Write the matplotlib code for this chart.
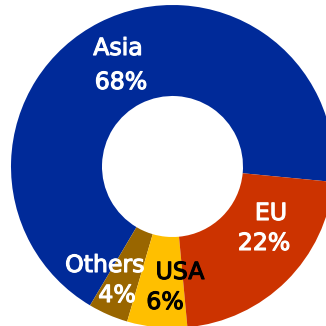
import matplotlib
matplotlib.use("Agg")
import matplotlib.pyplot as plt
import matplotlib.patheffects as pe

categories = ["Asia", "Others", "USA", "EU"]
values = [68, 4, 6, 22]
pct_labels = ["68%", "4%", "6%", "22%"]
colors = ["#002A99", "#996600", "#FFBF00", "#CC3300"]
text_colors = ["white", "white", "black", "white"]

# label anchor pixel positions (name line, percent line)
label_px = [((118, 48), (121, 82)),
            ((105, 265), (117, 295)),
            ((180, 272), (165, 302)),
            ((271, 213), (264, 243))]

W = H = 326
cx, cy, R, r_in = 172.5, 166.5, 161.5, 70.5

fig = plt.figure(figsize=(W / 100, H / 100), dpi=100)
ax = fig.add_axes([0, 0, 1, 1])
ax.pie(values, colors=colors, startangle=-5.5, counterclock=True,
       radius=1.0, wedgeprops=dict(width=(R - r_in) / R, linewidth=0))
ax.set_xlim(-cx / R, (W - cx) / R)
ax.set_ylim(-(H - cy) / R, cy / R)
ax.set_aspect("equal", adjustable="datalim")
ax.axis("off")

def to_data(p):
    return (p[0] - cx) / R, (cy - p[1]) / R

for name, pct, col, (p1, p2) in zip(categories, pct_labels, text_colors, label_px):
    x1, y1 = to_data(p1)
    x2, y2 = to_data(p2)
    effects = [pe.withStroke(linewidth=0.8, foreground=col)]
    ax.text(x1, y1, name, color=col, fontsize=17, ha="center", va="center",
            family="DejaVu Sans", path_effects=effects)
    ax.text(x2, y2, pct, color=col, fontsize=17, ha="center", va="center",
            family="DejaVu Sans", path_effects=effects)

fig.savefig("out.png", dpi=100)
